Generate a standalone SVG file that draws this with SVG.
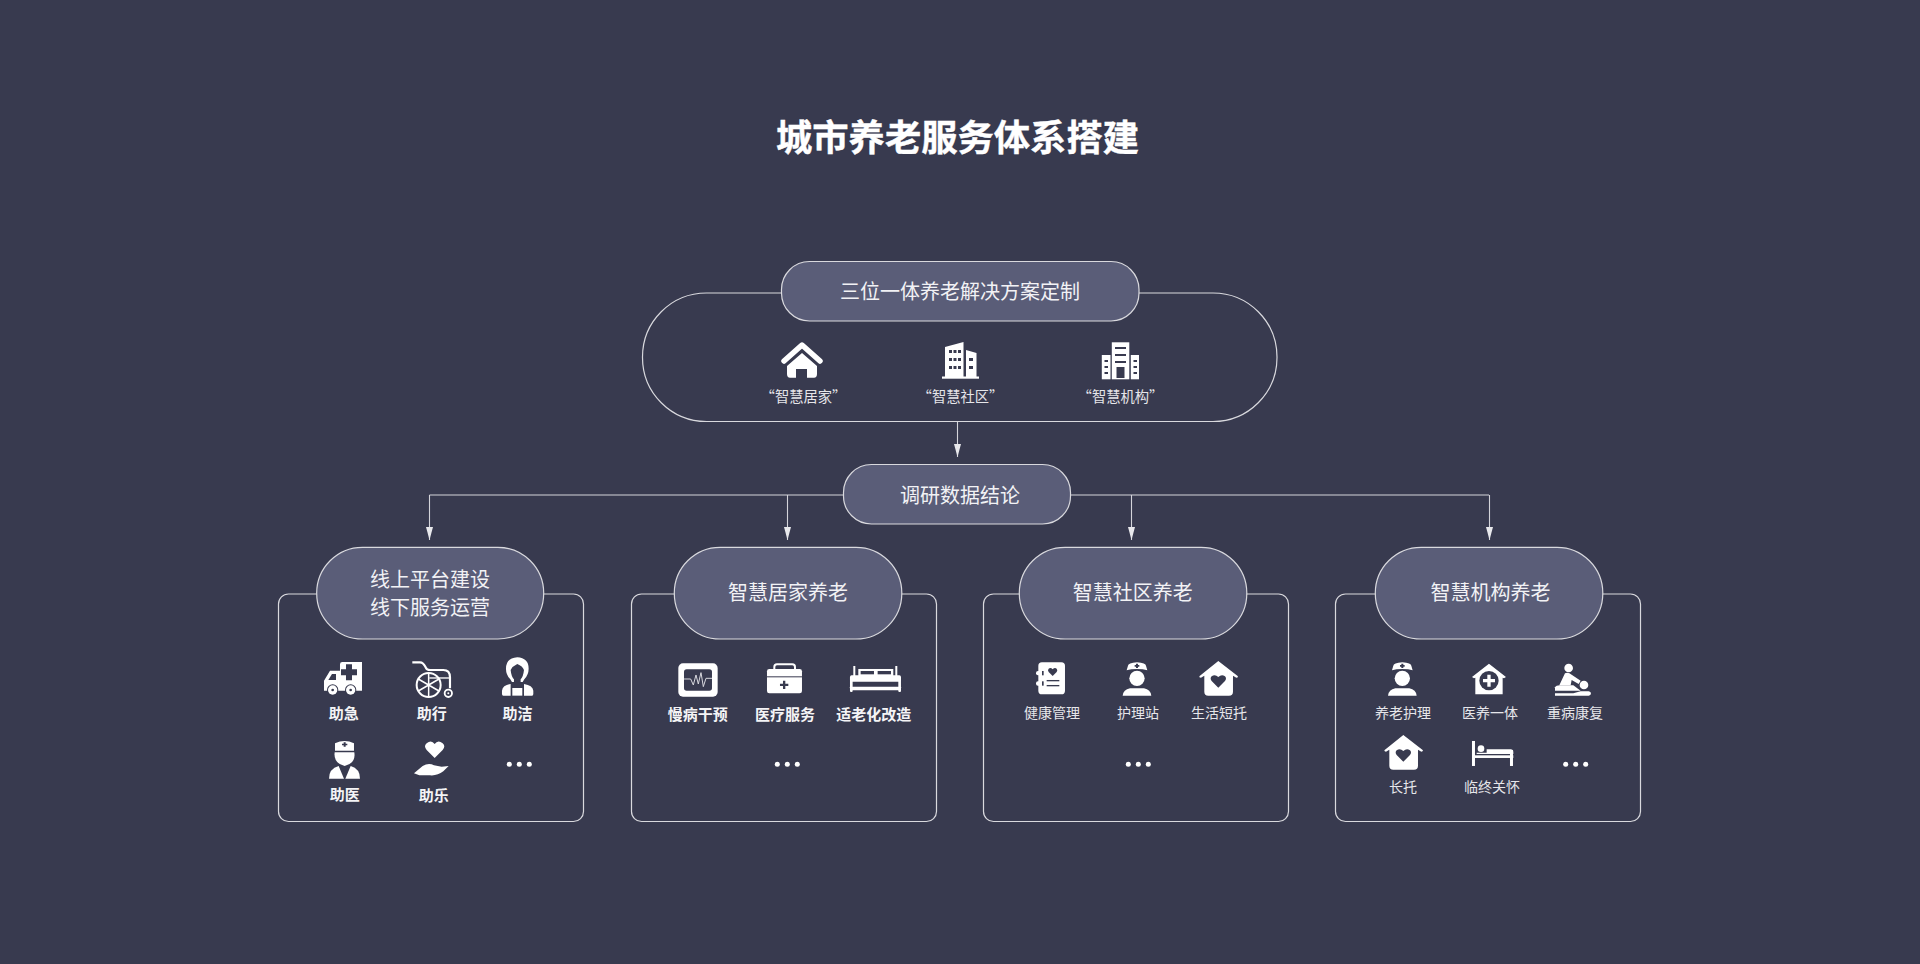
<svg xmlns="http://www.w3.org/2000/svg" width="1920" height="964" viewBox="0 0 1920 964">
<style>
text{font-family:"Noto Sans CJK SC","Noto Sans",sans-serif;fill:#fff;text-anchor:middle}
.title{font-size:36.3px;font-weight:700;stroke:#fff;stroke-width:.4}
.pt{font-size:20px;fill:#f2f2f5}
.l14{font-size:14px;fill:#e6e6ea}
.b15{font-size:15px;font-weight:700;fill:#f4f4f6}
.pill{fill:#5a5d78;stroke:#d9d9de;stroke-width:1.2}
.frame{fill:none;stroke:#d9d9de;stroke-width:1.2}
.conn{fill:none;stroke:#d4d4da;stroke-width:1.1}
.w{fill:#fff}
.d{fill:#383a4f}
.dot{fill:#fff}
</style>
<defs>
<marker id="arrow" markerUnits="userSpaceOnUse" markerWidth="13" markerHeight="7" refX="13" refY="3.5" orient="auto" viewBox="0 0 13 7"><path d="M0 0L13 3.500L0 7Z" fill="#e8e8ec"/></marker>
<symbol id="nurse" overflow="visible" viewBox="0 0 90 105" width="90" height="105">
<path class="w" d="M16 12Q16 4 43 2Q70 4 70 12L74 26Q62 22 43 22Q24 22 12 26Z"/>
<path class="d" d="M40 6h6v4h4v5h-4v4h-6v-4h-4v-5h4Z"/>
<circle class="w" cx="43" cy="50" r="23"/>
<path class="w" d="M0 102Q2 84 22 80H64Q84 84 86 102Z"/>
</symbol>
<symbol id="househeart" overflow="visible" viewBox="0 0 118 105" width="118" height="105">
<path class="w" d="M58 0L116 45Q119 50 112 50L102 44V92Q102 104 90 104H28Q16 104 16 92V44L6 50Q-1 50 2 45Z"/>
<path class="d" d="M58 80L38 60Q32 52 38 46Q48 38 58 48Q68 38 78 46Q84 52 78 60Z"/>
</symbol>
</defs>
<rect width="1920" height="964" fill="#383a4f"/>

<g id="title"><text class="title" x="957.500" y="151">城市养老服务体系搭建</text></g>

<g id="connectors" class="conn">
<path d="M957.500 422V457" marker-end="url(#arrow)"/>
<path d="M429.500 495H1489"/>
<path d="M429.500 495V540" marker-end="url(#arrow)"/>
<path d="M787.500 495V540" marker-end="url(#arrow)"/>
<path d="M1131.500 495V540" marker-end="url(#arrow)"/>
<path d="M1489.500 495V540" marker-end="url(#arrow)"/>
</g>

<g id="node-solution">
<rect class="frame" x="642.500" y="293" width="634.500" height="128.500" rx="64" ry="64"/>
<rect class="pill" x="781.500" y="261.500" width="357.500" height="59.500" rx="28"/>
<text class="pt" x="960" y="299">三位一体养老解决方案定制</text>
<g id="icon-home">
<path d="M784 361L802 345L820 361" fill="none" stroke="#fff" stroke-width="5.500" stroke-linecap="round" stroke-linejoin="round"/>
<path class="w" d="M802 353L817 366V374Q817 377.700 814 377.700H807V369H796V377.700H790Q787 377.700 787 374V366Z"/>
</g>
<text class="l14" x="803.500" y="402" style="font-size:14.300px">“智慧居家”</text>
<g id="icon-community">
<rect class="w" x="942" y="376.500" width="37" height="2.200"/>
<path class="w" d="M945 347L963.500 342V377H945Z"/>
<path class="w" d="M966 350L976.500 353V377H966Z"/>
<g class="d">
<rect x="949" y="350" width="3" height="3"/><rect x="953.500" y="350" width="3" height="3"/><rect x="958" y="350" width="3" height="3"/>
<rect x="949" y="358" width="3" height="3"/><rect x="953.500" y="358" width="3" height="3"/><rect x="958" y="358" width="3" height="3"/>
<rect x="949" y="366" width="3" height="3"/><rect x="953.500" y="366" width="3" height="3"/><rect x="958" y="366" width="3" height="3"/>
<rect x="969" y="358" width="4" height="3"/><rect x="969" y="366" width="4" height="3"/>
</g>
</g>
<text class="l14" x="960.500" y="402" style="font-size:14.300px">“智慧社区”</text>
<g id="icon-institution">
<rect class="w" x="1111.800" y="342.300" width="17.500" height="37"/>
<rect class="w" x="1101.800" y="355" width="8.700" height="24.300"/>
<rect class="w" x="1130.800" y="355" width="8.200" height="24.300"/>
<g class="d">
<rect x="1115" y="347" width="11" height="2"/><rect x="1115" y="354" width="11" height="2"/><rect x="1115" y="361" width="11" height="2"/>
<rect x="1116.500" y="367" width="8" height="11"/>
<rect x="1104.500" y="360" width="3.500" height="2"/><rect x="1104.500" y="366" width="3.500" height="2"/><rect x="1104.500" y="372" width="3.500" height="2"/>
<rect x="1133.500" y="360" width="3.500" height="2"/><rect x="1133.500" y="366" width="3.500" height="2"/><rect x="1133.500" y="372" width="3.500" height="2"/>
</g>
</g>
<text class="l14" x="1120.500" y="402" style="font-size:14.300px">“智慧机构”</text>
</g>

<g id="node-research">
<rect class="pill" x="843.500" y="464.500" width="227" height="59.500" rx="28"/>
<text class="pt" x="960" y="502.500">调研数据结论</text>
</g>

<g id="node-online">
<rect class="frame" x="278.500" y="594" width="305" height="227.500" rx="10"/>
<rect class="pill" x="316.700" y="547.300" width="227" height="91.700" rx="45.800"/>
<text class="pt" x="430" y="587">线上平台建设</text>
<text class="pt" x="430" y="615">线下服务运营</text>
<g transform="translate(260 530) scale(0.3333)">
<g id="icon-ambulance">
<path class="w" d="M247 396H306V482H192V452L210 422H240V403Q240 396 247 396Z"/>
<path class="d" d="M205 450L216 432H228V450Z"/>
<path class="d" d="M258 403H276V418H291V436H276V451H258V436H243V418H258Z"/>
<circle class="d" cx="218" cy="480" r="17"/><circle class="w" cx="218" cy="480" r="14"/><circle class="d" cx="218" cy="480" r="4"/>
<circle class="d" cx="272" cy="480" r="17"/><circle class="w" cx="272" cy="480" r="14"/><circle class="d" cx="272" cy="480" r="4"/>
</g>
<g id="icon-wheelchair" fill="none" stroke="#fff">
<path d="M457 397H480Q490 397 497 412Q500 420 510 420H550Q570 420 570 442V475" stroke-width="6.500"/>
<circle cx="506" cy="465" r="36" stroke-width="6"/>
<path d="M506 429V501M475 447L537 483M475 483L537 447" stroke-width="4.500"/>
<path d="M508 444H568" stroke-width="4"/>
<circle cx="565" cy="490" r="11" stroke-width="5.500"/>
<circle cx="565" cy="490" r="3" fill="#fff" stroke="none"/>
</g>
<g id="icon-cleaner">
<path class="w" d="M772 382Q806 384 806 416Q806 434 793 448L788 456H756L751 448Q738 434 738 416Q738 384 772 382Z"/>
<path class="d" d="M772 402Q758 408 752 420Q754 440 762 448V458H782V448Q790 440 792 420Q788 408 772 402Z"/>
<path class="w" d="M752 462V497H730Q726 497 726 492V482Q728 466 752 462Z"/>
<path class="w" d="M792 462V497H816Q820 497 820 492V482Q818 466 792 462Z"/>
<path class="w" d="M757 474H787V497H757Z"/>
</g>
<g id="icon-doctor">
<path class="w" d="M225 640Q254 626 282 640V662H225Z"/>
<path class="d" d="M251 637h6v4h5v5h-5v4h-6v-4h-5v-5h5Z"/>
<path class="w" d="M224 667H283Q288 700 254 708Q220 700 224 667Z"/>
<path class="w" d="M207 746Q207 716 236 708L252 746H207Z"/>
<path class="w" d="M300 746Q300 716 272 708L256 746H300Z"/>
</g>
<g id="icon-hand">
<path class="w" d="M524 684L500 660Q490 648 500 640Q514 628 524 642Q534 628 548 640Q558 648 548 660Z"/>
<path class="w" d="M462 730L488 708Q506 698 522 706L545 710L566 708L550 724Q532 738 510 736H478Z"/>
</g>
</g>
<text class="b15" x="343.700" y="719">助急</text>
<text class="b15" x="431.700" y="719">助行</text>
<text class="b15" x="517.500" y="719">助洁</text>
<text class="b15" x="344.700" y="799.500">助医</text>
<text class="b15" x="433.700" y="800.500">助乐</text>
<g class="dot"><circle cx="509.300" cy="764.300" r="2.500"/><circle cx="519.300" cy="764.300" r="2.500"/><circle cx="529.300" cy="764.300" r="2.500"/></g>
</g>

<g id="node-home">
<rect class="frame" x="631.500" y="594" width="305" height="227.500" rx="10"/>
<rect class="pill" x="674.300" y="547.300" width="227.500" height="91.700" rx="45.800"/>
<text class="pt" x="788" y="600">智慧居家养老</text>
<g transform="translate(620 530) scale(0.3333)">
<g id="icon-monitor">
<rect class="w" x="175" y="400" width="118" height="100" rx="14"/>
<rect class="d" x="192" y="418" width="84" height="64" rx="8"/>
<path d="M192 447H212L220 465L228 435L235 462L243 428L250 470L258 445H276" fill="none" stroke="#d8d8de" stroke-width="3"/>
</g>
<g id="icon-kit">
<rect x="463" y="403" width="62" height="24" rx="8" fill="none" stroke="#fff" stroke-width="6"/>
<rect class="w" x="441" y="417" width="105" height="73" rx="7"/>
<rect class="d" x="441" y="439" width="105" height="3"/>
<path class="d" d="M489 452h7v9h9v7h-9v9h-7v-9h-9v-7h9Z"/>
</g>
<g id="icon-bed">
<rect class="w" x="700" y="408" width="6" height="30"/>
<rect class="w" x="826" y="408" width="6" height="30"/>
<rect class="w" x="715" y="417" width="105" height="22"/>
<rect class="d" x="722" y="423" width="40" height="10"/>
<rect class="d" x="773" y="423" width="40" height="10"/>
<rect class="w" x="690" y="436" width="153" height="19" rx="5"/>
<rect class="w" x="690" y="470" width="153" height="11" rx="2"/>
<rect class="w" x="690" y="440" width="8" height="46" rx="3"/>
<rect class="w" x="835" y="440" width="8" height="46" rx="3"/>
</g>
</g>
<text class="b15" x="697.700" y="719.500">慢病干预</text>
<text class="b15" x="785" y="719.500">医疗服务</text>
<text class="b15" x="873.700" y="719.500">适老化改造</text>
<g class="dot"><circle cx="777.300" cy="764.300" r="2.500"/><circle cx="787.300" cy="764.300" r="2.500"/><circle cx="797.300" cy="764.300" r="2.500"/></g>
</g>

<g id="node-community">
<rect class="frame" x="983.500" y="594" width="305" height="227.500" rx="10"/>
<rect class="pill" x="1019.300" y="547.300" width="227.500" height="91.700" rx="45.800"/>
<text class="pt" x="1132.700" y="600">智慧社区养老</text>
<g transform="translate(970 530) scale(0.3333)">
<g id="icon-notebook">
<rect class="w" x="205" y="397" width="80" height="96" rx="11"/>
<rect class="w" x="198" y="423" width="18" height="13" rx="6"/>
<rect class="w" x="198" y="454" width="18" height="13" rx="6"/>
<rect class="d" x="216" y="423" width="5" height="13"/>
<rect class="d" x="216" y="454" width="5" height="13"/>
<path class="d" d="M248 438L236 426Q232 420 236 416Q242 412 248 418Q254 412 260 416Q264 420 260 426Z"/>
<rect class="d" x="230" y="450" width="38" height="4"/>
<rect class="d" x="230" y="465" width="38" height="4"/>
</g>
<use href="#nurse" x="458" y="395"/>
<use href="#househeart" x="687" y="393"/>
</g>
<text class="l14" x="1052" y="718">健康管理</text>
<text class="l14" x="1138" y="718">护理站</text>
<text class="l14" x="1219" y="718">生活短托</text>
<g class="dot"><circle cx="1128.300" cy="764.300" r="2.500"/><circle cx="1138.300" cy="764.300" r="2.500"/><circle cx="1148.300" cy="764.300" r="2.500"/></g>
</g>

<g id="node-institution">
<rect class="frame" x="1335.500" y="594" width="305" height="227.500" rx="10"/>
<rect class="pill" x="1375.300" y="547.300" width="227.500" height="91.700" rx="45.800"/>
<text class="pt" x="1490.600" y="600">智慧机构养老</text>
<g transform="translate(1320 530) scale(0.3333)">
<use href="#nurse" x="204" y="395"/>
<g id="icon-medhouse">
<path class="w" d="M507 401L558 441L552 445L548 443V493H466V443L462 445L456 441Z"/>
<circle class="d" cx="507" cy="452" r="29"/>
<path class="w" d="M502 434h10v13h13v10h-13v13h-10v-13h-13v-10h13Z"/>
</g>
<g id="icon-massage">
<circle class="w" cx="746" cy="414" r="13"/>
<path class="w" d="M735 430Q745 426 755 434L782 452L776 462L755 450L752 466H718Z"/>
<circle class="w" cx="792" cy="465" r="13"/>
<path class="w" d="M705 482V472Q708 466 720 466H760L782 482Z"/>
<path class="w" d="M705 490H760L782 484H806Q813 486 813 490Q813 497 806 497H705Z"/>
</g>
<use href="#househeart" x="192" y="615"/>
<g id="icon-hospitalbed">
<rect class="w" x="456" y="633" width="9" height="75"/>
<rect class="w" x="570" y="660" width="9" height="48"/>
<circle class="w" cx="483" cy="656" r="10"/>
<path class="w" d="M500 658H572Q580 658 580 666V672H470V668H500Z"/>
<rect class="w" x="465" y="676" width="115" height="8"/>
</g>
</g>
<text class="l14" x="1403" y="718">养老护理</text>
<text class="l14" x="1490" y="718">医养一体</text>
<text class="l14" x="1575" y="718">重病康复</text>
<text class="l14" x="1403" y="791.500">长托</text>
<text class="l14" x="1492" y="791.500">临终关怀</text>
<g class="dot"><circle cx="1565.700" cy="764.300" r="2.500"/><circle cx="1575.700" cy="764.300" r="2.500"/><circle cx="1585.700" cy="764.300" r="2.500"/></g>
</g>
</svg>
